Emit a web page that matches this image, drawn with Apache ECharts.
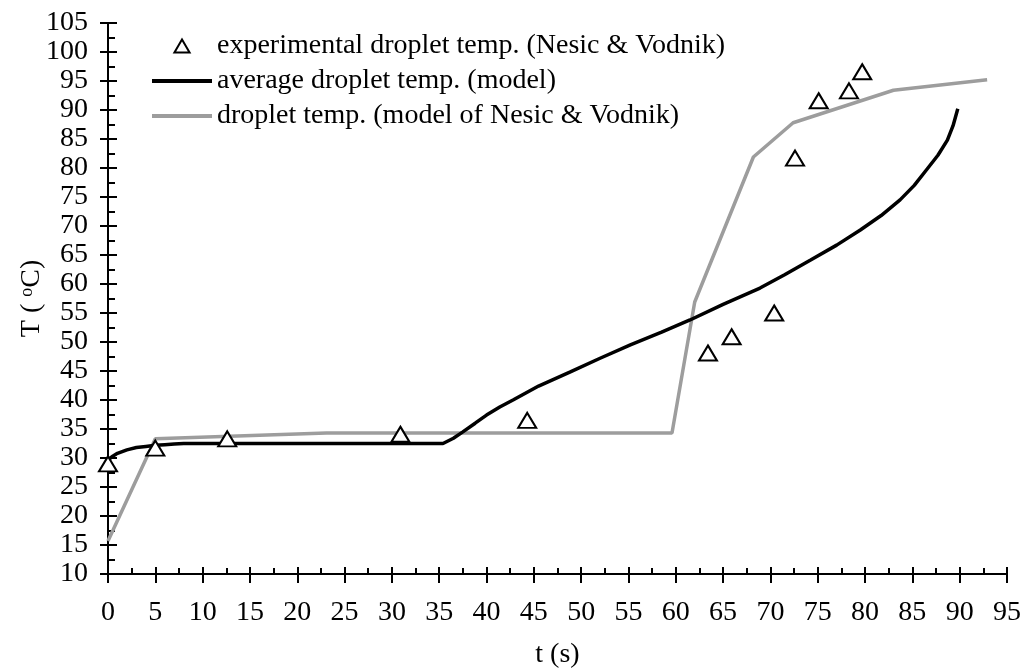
<!DOCTYPE html>
<html>
<head>
<meta charset="utf-8">
<script src="https://cdn.jsdelivr.net/npm/echarts@6/dist/echarts.min.js"></script>
<style>
html,body{margin:0;padding:0;background:#fff;}
#chart{width:1025px;height:672px;}
</style>
</head>
<body>
<div id="chart"></div>
<script>
// Experimental droplet temperature (Nesic & Vodnik)
const expTime = [0, 5.0, 12.6, 30.9, 44.3, 63.4, 65.9, 70.4, 72.6, 75.1, 78.3, 79.7];
const expTemp = [29.0, 31.7, 33.3, 34.1, 36.5, 48.1, 50.9, 55.0, 81.7, 91.6, 93.3, 96.6];

// Average droplet temperature (model)
const avgTime = [0, 0.5, 1, 1.5, 2, 3, 4, 5, 6, 7, 8, 35.4, 36.5, 37.5, 38.8, 40, 41.4, 42.8, 45.5, 48.8, 52, 55.2, 58.5, 61.5, 65, 68.9, 71.5, 74.2, 77, 79.5, 81.7, 83.7, 85.2, 86.5, 87.7, 88.7, 89.3, 89.8];
const avgTemp = [29.7, 30.3, 30.8, 31.1, 31.4, 31.8, 32.0, 32.2, 32.3, 32.4, 32.5, 32.5, 33.4, 34.5, 36.0, 37.4, 38.8, 40.0, 42.4, 44.8, 47.2, 49.5, 51.7, 53.8, 56.5, 59.3, 61.6, 64.1, 66.7, 69.3, 71.8, 74.5, 77.0, 79.7, 82.2, 84.8, 87.3, 90.2];

// Droplet temperature (model of Nesic & Vodnik)
const nvTime = [0, 5.0, 23.1, 59.6, 62.0, 68.2, 72.4, 83.0, 92.9];
const nvTemp = [15.7, 33.3, 34.3, 34.3, 56.9, 81.9, 87.8, 93.4, 95.2];

const seriesNames = [
  'experimental droplet temp. (Nesic & Vodnik)',
  'average droplet temp. (model)',
  'droplet temp. (model of Nesic & Vodnik)'
];
const xName = 't (s)';
const yNameParts = ['T ( ', 'o', 'C)'];

const zip = (a, b) => a.map((v, i) => [v, b[i]]);
const FONT = 'Liberation Serif';
const FS = 28;
const BLACK = '#000';
const GREY = '#9d9d9d';

const chart = echarts.init(document.getElementById('chart'));

const baseX = {
  type: 'value', min: 0, max: 95, interval: 5,
  gridIndex: 0, position: 'bottom', offset: 0,
  axisLine: { show: true, onZero: false, lineStyle: { color: BLACK, width: 2 } },
  splitLine: { show: false }
};
const baseY = {
  type: 'value', min: 10, max: 105, interval: 5,
  gridIndex: 0, position: 'left', offset: 0,
  axisLine: { show: true, onZero: false, lineStyle: { color: BLACK, width: 2 } },
  splitLine: { show: false }
};

chart.setOption({
  backgroundColor: '#fff',
  animation: false,
  textStyle: { fontFamily: FONT },
  grid: { left: 108, top: 23, right: 18, bottom: 98, containLabel: false, outerBoundsMode: 'none' },
  legend: {
    orient: 'vertical', left: 152, top: 32,
    itemWidth: 60, itemHeight: 13, itemGap: 7, padding: 0,
    symbolKeepAspect: true,
    textStyle: { fontFamily: FONT, fontSize: FS, color: BLACK },
    data: [
      { name: seriesNames[0], icon: 'path://M0,12L7,0L14,12Z',
        itemStyle: { color: '#fff', borderColor: BLACK, borderWidth: 2 } },
      { name: seriesNames[1], icon: 'path://M0,0L60,0L60,4L0,4Z',
        itemStyle: { color: BLACK, borderWidth: 0 } },
      { name: seriesNames[2], icon: 'path://M0,0L60,0L60,4L0,4Z',
        itemStyle: { color: GREY, borderWidth: 0 } }
    ]
  },
  xAxis: [
    Object.assign({}, baseX, {
      name: xName, nameLocation: 'middle', nameGap: 67, nameMoveOverlap: false,
      nameTextStyle: { fontFamily: FONT, fontSize: FS, color: BLACK },
      axisTick: { show: true, inside: false, length: 9, lineStyle: { color: BLACK, width: 2 } },
      minorTick: { show: false },
      axisLabel: { show: true, margin: 25, fontFamily: FONT, fontSize: FS, color: BLACK }
    }),
    Object.assign({}, baseX, {
      axisTick: { show: true, inside: true, length: 7, lineStyle: { color: BLACK, width: 2 } },
      minorTick: { show: true, splitNumber: 2, length: 6, lineStyle: { color: BLACK, width: 2 } },
      axisLabel: { show: false }
    })
  ],
  yAxis: [
    Object.assign({}, baseY, {
      name: yNameParts[0] + '{sup|' + yNameParts[1] + '}' + yNameParts[2],
      nameLocation: 'middle', nameGap: 62, nameRotate: 90, nameMoveOverlap: false,
      nameTextStyle: { fontFamily: FONT, fontSize: FS, color: BLACK,
        rich: { sup: { fontFamily: FONT, fontSize: 18, color: BLACK, verticalAlign: 'top', padding: [0, 0, 10, 0] } } },
      axisTick: { show: true, inside: false, length: 8, lineStyle: { color: BLACK, width: 2 } },
      minorTick: { show: false },
      axisLabel: { show: true, margin: 20, fontFamily: FONT, fontSize: FS, color: BLACK }
    }),
    Object.assign({}, baseY, {
      axisTick: { show: true, inside: true, length: 9, lineStyle: { color: BLACK, width: 2 } },
      minorTick: { show: true, splitNumber: 2, length: 7, lineStyle: { color: BLACK, width: 2 } },
      axisLabel: { show: false }
    })
  ],
  series: [
    {
      name: seriesNames[1], type: 'line', xAxisIndex: 0, yAxisIndex: 0,
      data: zip(avgTime, avgTemp), showSymbol: false, symbol: 'none',
      lineStyle: { color: BLACK, width: 3.5 }, itemStyle: { color: BLACK }, z: 3
    },
    {
      name: seriesNames[2], type: 'line', xAxisIndex: 0, yAxisIndex: 0,
      data: zip(nvTime, nvTemp), showSymbol: false, symbol: 'none',
      lineStyle: { color: GREY, width: 3.5 }, itemStyle: { color: GREY }, z: 2
    },
    {
      name: seriesNames[0], type: 'scatter', xAxisIndex: 0, yAxisIndex: 0,
      data: zip(expTime, expTemp), symbol: 'triangle', symbolSize: [18, 15],
      itemStyle: { color: '#fff', borderColor: BLACK, borderWidth: 2, opacity: 1 }, z: 5
    }
  ]
});
</script>
</body>
</html>
